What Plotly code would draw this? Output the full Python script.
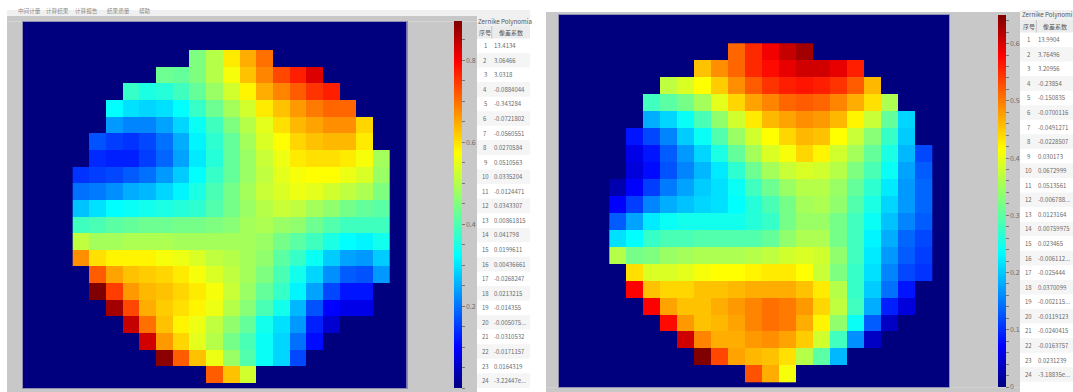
import plotly.graph_objects as go

W, H = 1073, 392
N = None

# Wavefront maps: values, as percent of each colour range
left_pct = [
 [N,N,N,N,N,N,N,50,56,66,72,78,N,N,N,N,N,N,N],
 [N,N,N,N,N,48,47,50,56,63,70,76,82,86,92,N,N,N,N],
 [N,N,N,42,39,40,43,47,53,59,65,72,76,80,84,86,N,N,N],
 [N,N,36,33,32,33,36,42,48,54,59,66,70,74,77,79,79,N,N],
 [N,N,26,24,24,27,32,37,43,50,56,61,67,71,73,75,75,68,N],
 [N,19,17,16,18,22,28,35,41,47,54,60,64,68,70,71,71,66,N],
 [N,15,14,14,17,21,27,34,40,47,53,58,62,66,67,67,66,63,54],
 [16,17,18,20,22,26,31,36,42,47,53,57,61,63,64,64,62,60,53],
 [22,23,25,28,29,32,35,39,44,49,54,58,60,62,61,59,57,55,50],
 [30,33,36,37,38,39,40,41,45,49,53,56,58,57,54,52,49,47,46],
 [43,44,46,47,48,48,49,49,50,51,54,55,53,52,48,45,43,43,43],
 [57,54,54,55,55,55,54,54,54,54,54,53,49,46,43,39,36,35,38],
 [75,67,65,65,65,63,62,60,57,56,54,52,46,42,37,31,27,26,31],
 [N,80,73,70,69,68,66,63,60,57,54,50,44,38,32,25,20,19,26],
 [N,100,83,74,71,70,68,66,63,58,53,47,42,35,27,18,13,13,N],
 [N,N,97,82,72,69,67,65,62,56,51,44,38,29,19,11,9,9,N],
 [N,N,N,94,78,70,65,62,57,52,47,38,33,26,14,7,N,N,N],
 [N,N,N,N,93,74,68,61,56,49,44,37,32,22,12,N,N,N,N],
 [N,N,N,N,N,99,80,70,62,53,45,37,32,18,N,N,N,N,N],
 [N,N,N,N,N,N,N,N,80,70,59,N,N,N,N,N,N,N,N],
]
right_pct = [
 [N,N,N,N,N,N,N,79,85,90,94,97,N,N,N,N,N,N,N],
 [N,N,N,N,N,70,75,79,85,88,91,93,93,91,86,N,N,N,N],
 [N,N,N,57,60,64,69,75,80,84,86,87,86,84,80,71,N,N,N],
 [N,N,43,46,49,54,61,68,73,76,79,80,79,76,72,67,55,N,N],
 [N,N,28,32,37,44,52,59,66,71,73,75,74,71,65,58,47,32,N],
 [N,13,18,24,31,37,45,53,59,64,68,71,70,64,58,51,42,31,N],
 [N,9,13,20,26,32,39,47,54,60,63,68,65,59,54,47,39,29,18],
 [N,8,12,19,24,29,34,41,48,54,58,60,59,56,50,44,37,27,20],
 [4,11,17,23,27,31,33,37,43,48,53,56,56,53,47,41,34,26,21],
 [11,17,24,28,30,32,33,36,40,44,49,54,55,52,45,39,32,26,21],
 [20,27,34,37,38,38,38,38,40,42,49,53,53,49,43,37,30,24,20],
 [33,36,42,44,44,45,45,45,45,47,52,55,55,49,43,35,28,21,18],
 [56,49,50,53,54,55,55,55,56,57,59,60,59,52,43,34,26,20,17],
 [N,67,60,60,61,63,64,64,65,66,66,64,58,50,42,33,24,18,16],
 [N,89,70,68,68,70,70,71,72,72,72,70,66,56,42,31,22,13,N],
 [N,N,89,73,70,70,72,74,76,78,77,74,68,57,43,28,14,8,N],
 [N,N,N,88,74,70,71,73,76,78,77,72,65,52,37,20,6,N,N],
 [N,N,N,N,93,76,72,72,74,75,73,69,59,43,25,6,N,N,N],
 [N,N,N,N,N,100,82,73,71,70,67,56,46,29,N,N,N,N,N],
 [N,N,N,N,N,N,N,N,81,72,63,N,N,N,N,N,N,N,N],
]
left_max, right_max = 0.894, 0.65
left_ticks = [0, 0.2, 0.4, 0.6, 0.8]
right_ticks = [0, 0.1, 0.2, 0.3, 0.4, 0.5, 0.6]

table_title = "Zernike Polynomia"
table_title_r = "Zernike Polynomi"
table_head = ["序号", "像差系数"]
left_coef = ["13.4134","3.06466","3.0318","-0.0884044","-0.343284","-0.0721802","-0.0560551","0.0270584",
             "0.0510563","0.0335204","-0.0124471","0.0343307","0.00861815","0.041798","0.0199611","0.00436661",
             "-0.0268247","0.0213215","-0.014355","-0.005075...","-0.0310532","-0.0171157","0.0164319","-3.22447e..."]
right_coef = ["13.9904","3.76496","3.20956","-0.23854","-0.150835","-0.0700116","-0.0491271","-0.0228507",
              "0.030173","0.0672999","0.0513561","-0.006788...","0.0123164","0.00759975","0.023465","-0.006112...",
              "-0.025444","0.0370099","-0.002115...","-0.0119123","-0.0240415","-0.0163757","0.0231239","-3.18835e..."]
menu_items = ["中间计量", "计算结果", "计算报告", "结果质量", "帮助"]

JET = [[0, "#00007f"], [0.11, "#0000ff"], [0.36, "#00ffff"], [0.5, "#7fff7f"],
       [0.64, "#ffff00"], [0.89, "#ff0000"], [1, "#7f0000"]]
TXT = "#6a6a6a"
GREY = "#c8c8c8"
FONT = "Noto Sans CJK SC, Noto Sans, sans-serif"


def fx(p):
    return p / W


def fy(p):
    return 1 - p / H


def scale(grid, zmax):
    return [[None if v is None else v / 100 * zmax for v in row] for row in grid]


def minor_ticks(step, zmax):
    n = int(zmax / step + 1e-6)
    return [round(i * step, 4) for i in range(n + 1)]


fig = go.Figure()
shapes, notes = [], []


def rect(x0, y0, x1, y1, color, layer="below"):
    shapes.append(dict(type="rect", xref="paper", yref="paper", x0=fx(x0), x1=fx(x1),
                       y0=fy(y1), y1=fy(y0), fillcolor=color, line_width=0, layer=layer))


def text(x, y, s, anchor="left", size=6.0, color=TXT):
    notes.append(dict(xref="paper", yref="paper", x=fx(x), y=fy(y), text=s, showarrow=False,
                      xanchor=anchor, yanchor="middle", borderpad=0, borderwidth=0,
                      font=dict(size=size, color=color, family=FONT)))


def frame(x0, y0, x1, y1, box):
    """Window grey around a map, leaving the map's own dark blue plot area uncovered."""
    left, top, right, bottom = box
    rect(x0, y0, x1, top, GREY)
    rect(x0, bottom, x1, y1, GREY)
    rect(x0, top, left, bottom, GREY)
    rect(right, top, x1, bottom, GREY)


def panel(idx, grid, zmax, box, cell, first, ticks, step, bar, tick_size=7):
    left, top, right, bottom = box
    col0, row0 = first
    xr = [-0.5 - (col0 - left) / cell[0], -0.5 + (right - col0) / cell[0]]
    yr = [-0.5 + (bottom - row0) / cell[1], -0.5 - (row0 - top) / cell[1]]
    suffix = "" if idx == 1 else str(idx)
    ax = dict(showgrid=False, zeroline=False, showticklabels=False, ticks="", showline=True,
              mirror=True, linecolor="#8f8fb5", linewidth=1)
    fig.update_layout({
        "xaxis" + suffix: dict(domain=[fx(left), fx(right)], range=xr, anchor="y" + suffix, **ax),
        "yaxis" + suffix: dict(domain=[fy(bottom), fy(top)], range=yr, anchor="x" + suffix, **ax),
    })
    tv = minor_ticks(step, zmax)
    tt = [str(t).rstrip("0").rstrip(".") if t in ticks and t != 0 else ("0" if t == 0 else "") for t in tv]
    fig.add_trace(go.Heatmap(
        z=scale(grid, zmax), xaxis="x" + suffix, yaxis="y" + suffix, colorscale=JET,
        zmin=0, zmax=zmax, xgap=0, ygap=0, hoverongaps=False,
        colorbar=dict(x=fx(bar[0]), xanchor="left", xpad=0, ypad=0, y=fy(top), yanchor="top",
                      lenmode="pixels", len=bottom - top, thicknessmode="pixels", thickness=bar[1],
                      outlinewidth=0, borderwidth=0, tickmode="array", tickvals=tv, ticktext=tt,
                      ticks="outside", ticklen=3, tickwidth=1, tickcolor="#777777",
                      tickfont=dict(size=tick_size, color=TXT, family=FONT)),
    ))


def table(x0, x_div, x1, title_y, row1_y, title, coefs, n_x, v_x, t_x):
    pitch = 14.56
    hdr_top = row1_y - pitch / 2 - 12.4
    rect(x0, hdr_top - 10, x1, hdr_top, "#f0f0f0")
    rect(x0, hdr_top, x1, row1_y - pitch / 2, "#ececec")
    rect(x_div - 0.5, hdr_top, x_div + 0.5, row1_y - pitch / 2, "#c4c4c4")
    text(t_x, title_y, title, size=6.2, color="#555555")
    text(n_x, hdr_top + 6.2, table_head[0], "center", 6.0, "#555555")
    text((x_div + x1) / 2, hdr_top + 6.2, table_head[1], "center", 6.0, "#555555")
    for i, c in enumerate(coefs):
        y = row1_y + i * pitch
        if i % 2 == 1:
            rect(x0, y - pitch / 2, x1, y + pitch / 2, "#f5f5f5")
        text(n_x, y, str(i + 1), "center")
        text(v_x, y, c)


LEFT_BOX = (22.7, 21.5, 406.7, 388)
RIGHT_BOX = (558.7, 15, 949, 387.3)

# page furniture
frame(7, 16, 477, H, LEFT_BOX)
rect(7, 10, 530, 16, "#f0f0f0")
frame(546, 12, 1020, H, RIGHT_BOX)
for s, mx in zip(menu_items, [29, 57, 86, 118, 145]):
    text(mx, 10.5, s, "center", 5.6, "#8a8a8a")

panel(1, left_pct, left_max, LEFT_BOX, (16.67, 16.67), (72.7, 50),
      left_ticks, 0.05, (454.3, 8.4))
panel(2, right_pct, right_max, RIGHT_BOX, (16.98, 16.95), (609.3, 43.3),
      right_ticks, 0.02, (997.7, 8.0))

table(477, 491.7, 530, 21, 45.7, table_title, left_coef, 485, 494, 478)
table(1020, 1036.3, W, 15, 39.7, table_title_r, right_coef, 1028.7, 1038, 1022)

fig.update_layout(width=W, height=H, margin=dict(l=0, r=0, t=0, b=0, pad=0),
                  paper_bgcolor="#ffffff", plot_bgcolor="#00007f", showlegend=False,
                  shapes=shapes, annotations=notes, font=dict(family=FONT))
fig.write_html("out.html", config={"displayModeBar": False},
               post_script="document.body.style.margin='0';document.body.style.overflow='hidden';")
